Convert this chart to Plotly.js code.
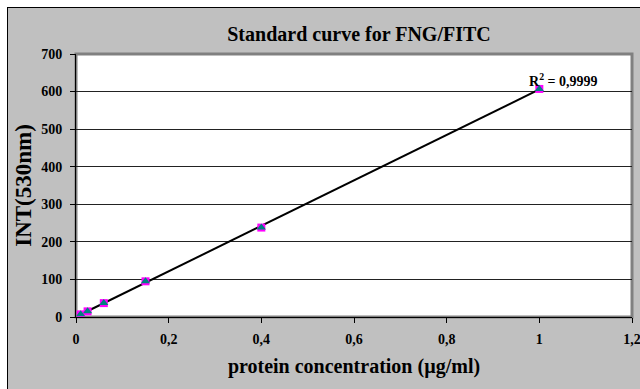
<!DOCTYPE html>
<html>
<head>
<meta charset="utf-8">
<script src="https://cdn.plot.ly/plotly-3.0.1.min.js"></script>
<style>
html,body{margin:0;padding:0;background:#fff;overflow:hidden;}
#frame{position:absolute;left:7px;top:7px;width:700px;height:450px;background:#c0c0c0;border:1px solid #000;}
#chart{position:absolute;left:0;top:0;width:640px;height:389px;}
</style>
</head>
<body>
<div id="frame"></div>
<div id="chart"></div>
<script>
// Standard curve measurements
const concentration = [0.01, 0.025, 0.06, 0.15, 0.4, 1.0];   // µg/ml
const intensity     = [7, 15, 37, 95, 238, 607];              // INT at 530 nm
const xTicks = [0, 0.2, 0.4, 0.6, 0.8, 1, 1.2];
const yTicks = [0, 100, 200, 300, 400, 500, 600, 700];

// Least-squares linear fit and coefficient of determination
function linearFit(xs, ys) {
  const n = xs.length;
  const mx = xs.reduce((a, b) => a + b, 0) / n;
  const my = ys.reduce((a, b) => a + b, 0) / n;
  let sxx = 0, sxy = 0, syy = 0;
  for (let i = 0; i < n; i++) {
    sxx += (xs[i] - mx) ** 2;
    sxy += (xs[i] - mx) * (ys[i] - my);
    syy += (ys[i] - my) ** 2;
  }
  const slope = sxy / sxx;
  const intercept = my - slope * mx;
  let ssRes = 0;
  for (let i = 0; i < n; i++) ssRes += (ys[i] - (slope * xs[i] + intercept)) ** 2;
  return { slope, intercept, r2: 1 - ssRes / syy };
}
const fit = linearFit(concentration, intensity);
const xMin = Math.min(...concentration), xMax = Math.max(...concentration);
const fitX = [xMin, xMax];
const fitY = fitX.map(x => fit.slope * x + fit.intercept);
const r2Text = fit.r2.toFixed(4).replace('.', ',');

const serif = 'Liberation Serif, Times New Roman, serif';

const traces = [
  { x: fitX, y: fitY, mode: 'lines', line: { color: '#000', width: 2 }, hoverinfo: 'skip' },
  { x: concentration, y: intensity, mode: 'markers',
    marker: { symbol: 'square', size: 8, color: '#ff00ff', line: { width: 0 } } },
  { x: concentration, y: intensity, mode: 'markers',
    marker: { symbol: 'triangle-up', size: 8, color: '#008080', line: { width: 0 } } }
];

const layout = {
  width: 640, height: 389,
  margin: { l: 76, r: 8, t: 54, b: 72 },
  paper_bgcolor: 'rgba(0,0,0,0)',
  plot_bgcolor: '#ffffff',
  separators: ', ',
  showlegend: false,
  font: { family: serif, color: '#000', size: 14 },
  title: { text: '<b>Standard curve for FNG/FITC</b>', font: { family: serif, size: 20 },
           x: 359 / 640, xanchor: 'center', y: 1 - 34 / 389, yanchor: 'middle' },
  xaxis: {
    range: [0, 1.2], tickvals: xTicks, ticks: 'outside', ticklen: 5, tickcolor: '#000',
    showline: true, linecolor: '#000', linewidth: 1, showgrid: false, zeroline: false,
    tickfont: { family: serif, size: 14, weight: 'bold' }, ticklabelstandoff: 4,
    ticklabeloverflow: 'allow',
    title: { text: '<b>protein concentration (µg/ml)</b>', font: { family: serif, size: 20 }, standoff: 13 }
  },
  yaxis: {
    range: [0, 700], tickvals: yTicks, ticks: 'outside', ticklen: 5, tickcolor: '#000',
    showline: true, linecolor: '#000', linewidth: 1, zeroline: false,
    showgrid: true, gridcolor: '#222', gridwidth: 1,
    tickfont: { family: serif, size: 14, weight: 'bold' }, ticklabelstandoff: 5,
    ticklabeloverflow: 'allow',
    title: { text: '<b>INT(530nm)</b>', font: { family: serif, size: 23 }, standoff: 3 }
  },
  shapes: [
    // grey frame around the plotting area
    { type: 'rect', xref: 'paper', yref: 'paper', x0: 0, x1: 1, y0: 0, y1: 1,
      line: { color: '#808080', width: 3 }, layer: 'below' }
  ],
  annotations: [
    { xref: 'paper', yref: 'paper', x: 524 / 556, y: 237 / 263, xanchor: 'right', yanchor: 'middle',
      text: '<b>R<sup>2</sup> = ' + r2Text + '</b>', showarrow: false,
      font: { family: serif, size: 14 } }
  ]
};

Plotly.newPlot('chart', traces, layout, { displayModeBar: false, staticPlot: true });
</script>
</body>
</html>
